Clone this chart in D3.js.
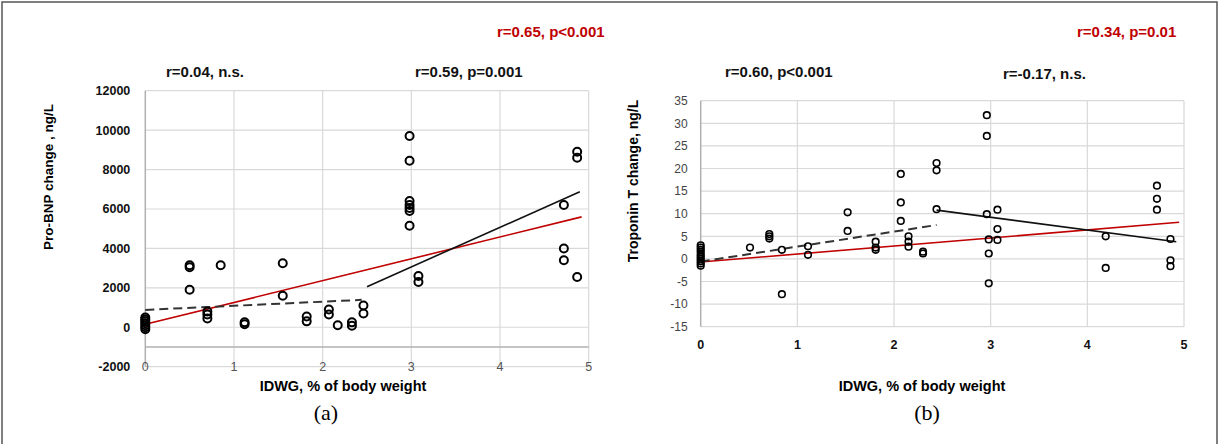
<!DOCTYPE html>
<html>
<head>
<meta charset="utf-8">
<script src="https://cdn.jsdelivr.net/npm/d3@7"></script>
<style>
  body { margin: 0; background: #fff; }
  svg { display: block; font-family: "Liberation Sans", Arial, sans-serif; }
</style>
</head>
<body>
<div id="vis"></div>
<script>
const WIDTH = 1219;
const HEIGHT = 444;

// panel (a): Pro-BNP change vs IDWG
const bnpIdwg   = [0, 0, 0, 0, 0, 0, 0, 0.5, 0.5, 0.5, 0.85, 0.7, 0.7, 0.7, 1.12, 1.12, 1.55, 1.55, 1.82, 1.82,
                   2.07, 2.07, 2.17, 2.33, 2.33, 2.46, 2.46, 2.98, 2.98, 2.98, 2.98, 2.98, 2.98, 2.98, 3.08, 3.08,
                   4.72, 4.72, 4.72, 4.87, 4.87, 4.87];
const bnpChange = [-100, 0, 100, 200, 300, 400, 500, 3150, 3050, 1900, 3150, 800, 650, 450, 250, 150, 3250, 1600, 550, 300,
                   900, 650, 100, 250, 80, 1100, 700, 9700, 8450, 6400, 6200, 6050, 5900, 5150, 2600, 2300,
                   6200, 4000, 3400, 8900, 8600, 2550];
const bnpTicks = [-2000, 0, 2000, 4000, 6000, 8000, 10000, 12000];
const bnpFitAll  = [[0, 150], [4.92, 5600]];
const bnpFitLow  = [[0, 880], [2.44, 1390]];
const bnpFitHigh = [[2.5, 2060], [4.9, 6875]];
const bnpStats = ["r=0.65, p<0.001", "r=0.04, n.s.", "r=0.59, p=0.001"];

// panel (b): Troponin T change vs IDWG
const tropIdwg   = [0, 0, 0, 0, 0, 0, 0, 0, 0, 0, 0.51, 0.71, 0.71, 0.71, 0.84, 0.84, 1.11, 1.11, 1.52, 1.52,
                    1.81, 1.81, 1.81, 2.07, 2.07, 2.07, 2.15, 2.15, 2.15, 2.3, 2.3, 2.44, 2.44, 2.44,
                    2.96, 2.96, 2.96, 2.98, 2.98, 2.98, 3.07, 3.07, 3.07, 4.19, 4.19, 4.72, 4.72, 4.72, 4.86, 4.86, 4.86];
const tropChange = [3, 2.5, 2, 1.5, 1, 0.5, 0, -0.5, -1, -1.5, 2.5, 5.5, 5, 4.5, 2, -7.8, 2.8, 0.9, 10.3, 6.2,
                    3.8, 2.5, 2, 18.8, 12.5, 8.4, 5, 3.8, 2.7, 1.6, 1.2, 21.2, 19.6, 11,
                    31.8, 27.2, 9.9, 4.3, 1.2, -5.4, 10.9, 6.6, 4.2, 5, -2, 16.2, 13.3, 10.9, 4.4, -0.3, -1.6];
const tropTicks = [-15, -10, -5, 0, 5, 10, 15, 20, 25, 30, 35];
const tropFitAll  = [[0, -0.7], [4.95, 8.1]];
const tropFitLow  = [[0, -0.6], [2.44, 7.5]];
const tropFitHigh = [[2.44, 10.8], [4.92, 3.8]];
const tropStats = ["r=0.34, p=0.01", "r=0.60, p<0.001", "r=-0.17, n.s."];

const idwgTicks = [0, 1, 2, 3, 4, 5];

const SVG = d3.select("#vis").append("svg").attr("width", WIDTH).attr("height", HEIGHT);

// marco de la figura
SVG.append("rect")
  .attr("x", 2).attr("y", 2).attr("width", WIDTH - 4).attr("height", HEIGHT + 10)
  .attr("fill", "none").attr("stroke", "#555").attr("stroke-width", 1.5);

function crearPanel(cfg) {
  const x = d3.scaleLinear().domain([0, 5]).range(cfg.xRange);
  const y = d3.scaleLinear().domain(cfg.yDomain).range(cfg.yRange);
  const G = SVG.append("g");

  // grilla
  G.append("g").selectAll("line").data(cfg.yTicks).join("line")
    .attr("x1", x(0)).attr("x2", x(5))
    .attr("y1", d => y(d)).attr("y2", d => y(d))
    .attr("stroke", "#d9d9d9").attr("stroke-width", 1.2);
  G.append("g").selectAll("line").data(idwgTicks.slice(1)).join("line")
    .attr("x1", d => x(d)).attr("x2", d => x(d))
    .attr("y1", y(cfg.yDomain[1])).attr("y2", y(cfg.yDomain[0]))
    .attr("stroke", "#d9d9d9").attr("stroke-width", 1.2);
  // ejes
  G.append("line")
    .attr("x1", x(0)).attr("x2", x(0))
    .attr("y1", y(cfg.yDomain[1])).attr("y2", y(cfg.yDomain[0]))
    .attr("stroke", "#b0b0b0").attr("stroke-width", 1.5);
  if (cfg.axisAt !== undefined) {
    G.append("line")
      .attr("x1", x(0)).attr("x2", x(5))
      .attr("y1", y(cfg.axisAt)).attr("y2", y(cfg.axisAt))
      .attr("stroke", "#b0b0b0").attr("stroke-width", 1.5);
  }

  // etiquetas de los ejes
  G.append("g").selectAll("text").data(cfg.yTicks).join("text")
    .attr("x", x(0) - cfg.yLabelGap).attr("y", d => y(d)).attr("dy", "0.35em")
    .attr("text-anchor", "end")
    .style("font-size", cfg.yFont).style("font-weight", cfg.yWeight).style("fill", cfg.yColor)
    .text(d => d);
  G.append("g").selectAll("text").data(idwgTicks).join("text")
    .attr("x", d => x(d)).attr("y", cfg.xLabelY).attr("dy", "0.35em")
    .attr("text-anchor", "middle")
    .style("font-size", "12.5px").style("font-weight", cfg.xWeight).style("fill", cfg.xColor)
    .text(d => d);

  G.append("text")
    .attr("transform", `translate(${cfg.yTitleX}, ${cfg.yTitleY}) rotate(-90)`)
    .attr("text-anchor", "middle").attr("dy", "0.35em")
    .style("font-size", cfg.yTitleFont).style("font-weight", "bold")
    .text(cfg.yTitle);
  G.append("text")
    .attr("x", cfg.xTitleX).attr("y", 386).attr("dy", "0.35em")
    .attr("text-anchor", "middle")
    .style("font-size", "14.5px").style("font-weight", "bold")
    .text("IDWG, % of body weight");
  G.append("text")
    .attr("x", cfg.letterX).attr("y", 412).attr("dy", "0.35em")
    .attr("text-anchor", "middle")
    .style("font-size", "22px").style("font-family", "'Liberation Serif', 'Times New Roman', serif")
    .text(cfg.letter);

  // rectas de regresión
  const linea = d3.line().x(d => x(d[0])).y(d => y(d[1]));
  G.append("path").attr("d", linea(cfg.fitAll))
    .attr("fill", "none").attr("stroke", "#c00000").attr("stroke-width", 1.6);
  G.append("path").attr("d", linea(cfg.fitHigh))
    .attr("fill", "none").attr("stroke", "#111").attr("stroke-width", 1.6);
  G.append("path").attr("d", linea(cfg.fitLow))
    .attr("fill", "none").attr("stroke", "#333").attr("stroke-width", 2)
    .attr("stroke-dasharray", "9,5");

  // puntos
  G.append("g").selectAll("circle").data(cfg.xs.map((d, i) => [d, cfg.ys[i]])).join("circle")
    .attr("cx", d => x(d[0])).attr("cy", d => y(d[1]))
    .attr("r", cfg.r)
    .attr("fill", "none").attr("stroke", "#000").attr("stroke-width", cfg.sw);

  // anotaciones
  G.append("g").selectAll("text").data(cfg.stats).join("text")
    .attr("x", (d, i) => cfg.statPos[i][0]).attr("y", (d, i) => cfg.statPos[i][1]).attr("dy", "0.35em")
    .style("font-size", "15px").style("font-weight", "bold")
    .style("fill", (d, i) => i === 0 ? "#c00000" : "#111")
    .text(d => d);
}

crearPanel({
  xRange: [145.3, 588.7], yDomain: [-2000, 12000], yRange: [366.7, 90.7],
  yTicks: bnpTicks, axisAt: -1000,
  yFont: "12.5px", yLabelGap: 15, yWeight: "bold", yColor: "#111",
  xLabelY: 367, xWeight: "normal", xColor: "#555",
  yTitle: "Pro-BNP change , ng/L", yTitleX: 48, yTitleY: 177, yTitleFont: "13.5px",
  xTitleX: 343, letterX: 326, letter: "(a)",
  fitAll: bnpFitAll, fitLow: bnpFitLow, fitHigh: bnpFitHigh,
  xs: bnpIdwg, ys: bnpChange, r: 4, sw: 2,
  stats: bnpStats, statPos: [[497, 32], [166, 72], [415, 72]]
});

crearPanel({
  xRange: [700.7, 1184], yDomain: [-15, 35], yRange: [326.7, 100.7],
  yTicks: tropTicks,
  yFont: "12px", yLabelGap: 13, yWeight: "normal", yColor: "#444",
  xLabelY: 345, xWeight: "bold", xColor: "#111",
  yTitle: "Troponin T change, ng/L", yTitleX: 633, yTitleY: 181, yTitleFont: "14px",
  xTitleX: 922, letterX: 927, letter: "(b)",
  fitAll: tropFitAll, fitLow: tropFitLow, fitHigh: tropFitHigh,
  xs: tropIdwg, ys: tropChange, r: 3.3, sw: 1.6,
  stats: tropStats, statPos: [[1077, 32], [725, 72], [1003, 74]]
});
</script>
</body>
</html>
